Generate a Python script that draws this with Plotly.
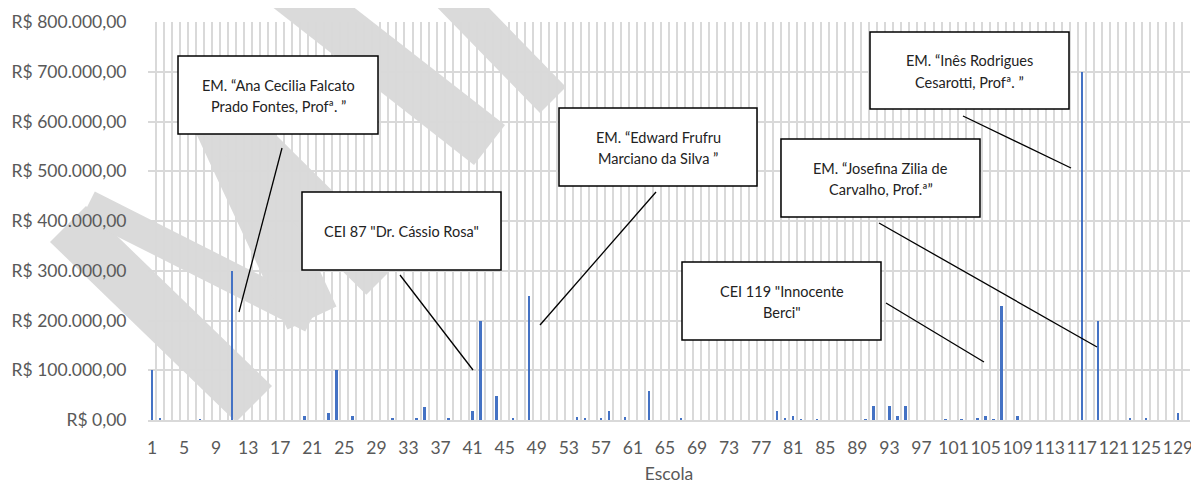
import plotly.graph_objects as go

# ---------------- data ----------------
escolas = list(range(1, 131))
valores = [
    100000, 3400, 0, 0, 0, 0, 2000, 0, 0, 0,            # 1-10
    300000, 0, 0, 0, 0, 0, 0, 0, 0, 8700,               # 11-20
    0, 0, 13400, 100000, 0, 8700, 0, 0, 0, 0,           # 21-30
    3000, 0, 0, 3000, 25500, 0, 0, 4000, 0, 0,          # 31-40
    18700, 200000, 0, 48000, 0, 3400, 0, 250000, 0, 0,  # 41-50
    0, 0, 0, 6000, 3400, 0, 3400, 18800, 0, 6000,       # 51-60
    0, 0, 58500, 0, 0, 0, 3400, 0, 0, 0,                # 61-70
    0, 0, 0, 0, 0, 0, 0, 0, 18800, 3400,                # 71-80
    8700, 2000, 0, 2000, 0, 0, 0, 0, 0, 2000,           # 81-90
    28800, 0, 28800, 8700, 28800, 0, 0, 0, 0, 2000,     # 91-100
    0, 2000, 0, 3400, 8700, 2000, 230000, 0, 8700, 0,   # 101-110
    0, 0, 0, 0, 0, 0, 700000, 0, 200000, 0,             # 111-120
    0, 0, 3400, 0, 3400, 0, 0, 0, 13400, 0,             # 121-130
]
x_ticks = list(range(1, 130, 4))
y_ticks = [0, 100000, 200000, 300000, 400000, 500000, 600000, 700000, 800000]
y_labels = ["R$ 0,00", "R$ 100.000,00", "R$ 200.000,00", "R$ 300.000,00",
            "R$ 400.000,00", "R$ 500.000,00", "R$ 600.000,00", "R$ 700.000,00",
            "R$ 800.000,00"]

rotulos = [
    ["EM. “Ana Cecilia Falcato", "Prado Fontes, Profª. ”"],
    ["CEI 87 \"Dr. Cássio Rosa\""],
    ["EM. “Edward Frufru", "Marciano da Silva ”"],
    ["EM. “Inês Rodrigues", "Cesarotti, Profª. ”"],
    ["EM. “Josefina Zilia de", "Carvalho, Prof.ª”"],
    ["CEI 119 \"Innocente", "Berci\""],
]

# ---------------- layout geometry (page pixels) ----------------
OFF = 8                     # default body margin of the html page
W, H = 1199 - OFF, 484 - OFF
L, R, T, B = 148, 1190, 22, 420   # plot area in page pixels

def px(x):
    return (x - L) / (R - L)

def py(y):
    return (B - y) / (B - T)

# text boxes (x0, y0, x1, y1) in page pixels
caixas = [
    (178, 56, 378, 134),
    (302, 192, 501, 270),
    (559, 108, 757, 186),
    (870, 32, 1069, 109),
    (781, 139, 980, 217),
    (682, 262, 881, 340),
]
linhas = [
    (282, 148, 239, 312),
    (400, 275, 473, 370),
    (656, 192, 540, 325),
    (963, 116, 1071, 168),
    (879, 223, 1097, 347),
    (886, 303, 984, 362),
]

# light grey watermark strokes (page pixels): rotated "MIN..." letters
marca = [
    [(50, 242), (86, 206), (272, 386), (236, 422)],                   # M left stem
    [(94.8, 191.6), (81.3, 218.4), (305.3, 331.4), (318.8, 304.6)],  # M diagonal 1
    [(336.5, 306.6), (287.5, 329.4), (190.5, 121.4), (239.5, 98.6)],  # M diagonal 2
    [(182.3, 112.7), (217.7, 77.3), (401.7, 259.3), (366.3, 294.7)],  # M right stem
    [(288, -44), (257, -5), (474, 165), (505, 125)],                  # I
    [(387, -44), (413, -70), (566, 87), (540, 113)],                  # N left stem
    [(599, -5), (652, -5), (620, 8)],                                 # N diagonal tip
]

FONT = "Lato"
TICKC = "#595959"
GRID = "#D9D9D9"
LINE_H = 21.4

fig = go.Figure()
fig.add_trace(go.Bar(
    x=escolas, y=valores, width=0.3,
    marker=dict(color="#4472C4", line=dict(width=0)),
    hoverinfo="x+y",
))

shapes = []
for poly in marca:
    d = "M " + " L ".join(f"{px(a):.5f},{py(b):.5f}" for a, b in poly) + " Z"
    shapes.append(dict(type="path", xref="paper", yref="paper", path=d,
                       fillcolor="#DADADA", line=dict(width=0), layer="below"))
for (x0, y0, x1, y1) in linhas:
    shapes.append(dict(type="line", xref="paper", yref="paper",
                       x0=px(x0), y0=py(y0), x1=px(x1), y1=py(y1),
                       line=dict(color="#000000", width=1.3), layer="above"))
for (x0, y0, x1, y1) in caixas:
    shapes.append(dict(type="rect", xref="paper", yref="paper",
                       x0=px(x0), y0=py(y0), x1=px(x1), y1=py(y1),
                       fillcolor="#FFFFFF", line=dict(color="#000000", width=1.5),
                       layer="above"))

annotations = []
for (x0, y0, x1, y1), txt in zip(caixas, rotulos):
    cx = (x0 + x1) / 2
    cy = (y0 + y1) / 2 + 1
    n = len(txt)
    for i, t in enumerate(txt):
        yy = cy + (i - (n - 1) / 2) * LINE_H
        annotations.append(dict(
            xref="paper", yref="paper", x=px(cx), y=py(yy),
            xanchor="center", yanchor="middle",
            text=t, showarrow=False,
            font=dict(family=FONT, size=14.5, color="#222222"),
        ))

fig.update_layout(
    width=W, height=H,
    margin=dict(l=L - OFF, r=1199 - R, t=T - OFF, b=484 - B, autoexpand=False),
    paper_bgcolor="#FFFFFF", plot_bgcolor="rgba(0,0,0,0)",
    showlegend=False,
    bargap=0,
    shapes=shapes,
    annotations=annotations,
    font=dict(family=FONT, size=17.5, color=TICKC),
)
fig.update_xaxes(
    automargin=False,
    range=[0.5, 130.5],
    tickmode="array", tickvals=x_ticks, ticktext=[str(v) for v in x_ticks],
    tickangle=0,
    ticks="outside", ticklen=11, tickcolor="rgba(0,0,0,0)",
    tickfont=dict(family=FONT, size=17.5, color=TICKC),
    showgrid=False,
    minor=dict(tick0=0.5, dtick=1, showgrid=True, gridcolor=GRID, gridwidth=1.5, ticks=""),
    showline=True, linecolor=GRID, linewidth=1.5,
    zeroline=False,
    title=dict(text="Escola", font=dict(family=FONT, size=17.5, color=TICKC), standoff=18),
    fixedrange=True,
)
fig.update_yaxes(
    automargin=False,
    range=[0, 800000],
    tickmode="array", tickvals=y_ticks, ticktext=y_labels,
    ticks="outside", ticklen=17, tickcolor="rgba(0,0,0,0)",
    tickfont=dict(family=FONT, size=17.5, color=TICKC),
    showgrid=True, gridcolor=GRID, gridwidth=1.5,
    zeroline=False, showline=False,
    fixedrange=True,
)

fig.write_html("out.html")
